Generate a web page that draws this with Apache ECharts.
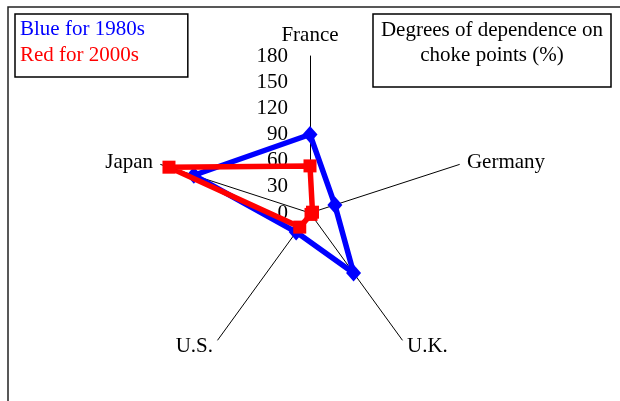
<!DOCTYPE html>
<html>
<head>
<meta charset="utf-8">
<script src="https://cdn.jsdelivr.net/npm/echarts@6/dist/echarts.min.js"></script>
<style>
  html, body { margin: 0; padding: 0; background: #fff; }
  #chart { width: 620px; height: 401px; }
</style>
</head>
<body>
<div id="chart"></div>
<script>
// Radar axes, listed in ECharts' counter-clockwise order starting at the top
const countries = ['France', 'Japan', 'U.S.', 'U.K.', 'Germany'];
// Dependence on choke points (%)
const values1980s = [90, 140, 27, 85, 30];
const values2000s = [54, 170, 20, 2, 3];
const tickLabels = [0, 30, 60, 90, 120, 150, 180];
const seriesNames = ['Blue for 1980s', 'Red for 2000s'];
const titleLines = ['Degrees of dependence on', 'choke points (%)'];

const FONT = 'Liberation Serif';
const axisMax = tickLabels[tickLabels.length - 1];

const indicators = countries.map(function (name, i) {
  const ind = { name: name, min: tickLabels[0], max: axisMax };
  // Only the top axis carries the scale labels
  if (i === 0) {
    ind.axisLabel = {
      show: true, color: '#000', fontFamily: FONT, fontSize: 21,
      margin: 22, align: 'right', verticalAlign: 'middle'
    };
  }
  return ind;
});

const chart = echarts.init(document.getElementById('chart'), null, { renderer: 'canvas' });
chart.setOption({
  animation: false,
  backgroundColor: '#fff',
  title: {
    text: titleLines.join('\n'),
    left: 484, top: 14,
    textAlign: 'center',
    padding: [4, 8, 19, 8],
    borderColor: '#000', borderWidth: 1.5,
    textStyle: { fontFamily: FONT, fontSize: 21, fontWeight: 'normal', color: '#000', lineHeight: 25 }
  },
  legend: {
    orient: 'vertical', left: 15, top: 14,
    padding: [4, 43, 11, 0], itemGap: 4,
    itemWidth: 0, itemHeight: 0, icon: 'rect',
    selectedMode: false,
    borderColor: '#000', borderWidth: 1.5,
    textStyle: { fontFamily: FONT, fontSize: 21, lineHeight: 22 },
    data: [
      { name: seriesNames[0], textStyle: { color: '#0000ff' } },
      { name: seriesNames[1], textStyle: { color: '#ff0000' } }
    ]
  },
  graphic: [{
    type: 'rect', z: -10, silent: true,
    shape: { x: 8, y: 7, width: 800, height: 600 },
    style: { fill: null, stroke: '#222', lineWidth: 1.5 }
  }],
  radar: {
    center: [310, 213], radius: 157, startAngle: 90,
    splitNumber: tickLabels.length - 1,
    splitLine: { show: false }, splitArea: { show: false },
    axisLine: { lineStyle: { color: '#000', width: 1 } },
    axisTick: { show: false },
    axisLabel: { show: false },
    nameGap: 8,
    axisName: { color: '#000', fontFamily: FONT, fontSize: 21 },
    indicator: indicators
  },
  series: [
    {
      type: 'radar', z: 2,
      symbol: 'diamond', symbolSize: [15, 17],
      lineStyle: { color: '#0000ff', width: 5.5 },
      itemStyle: { color: '#0000ff' },
      data: [{ name: seriesNames[0], value: values1980s }]
    },
    {
      type: 'radar', z: 3,
      symbol: 'rect', symbolSize: 13,
      lineStyle: { color: '#ff0000', width: 5.5 },
      itemStyle: { color: '#ff0000' },
      data: [{ name: seriesNames[1], value: values2000s }]
    }
  ]
});
</script>
</body>
</html>
